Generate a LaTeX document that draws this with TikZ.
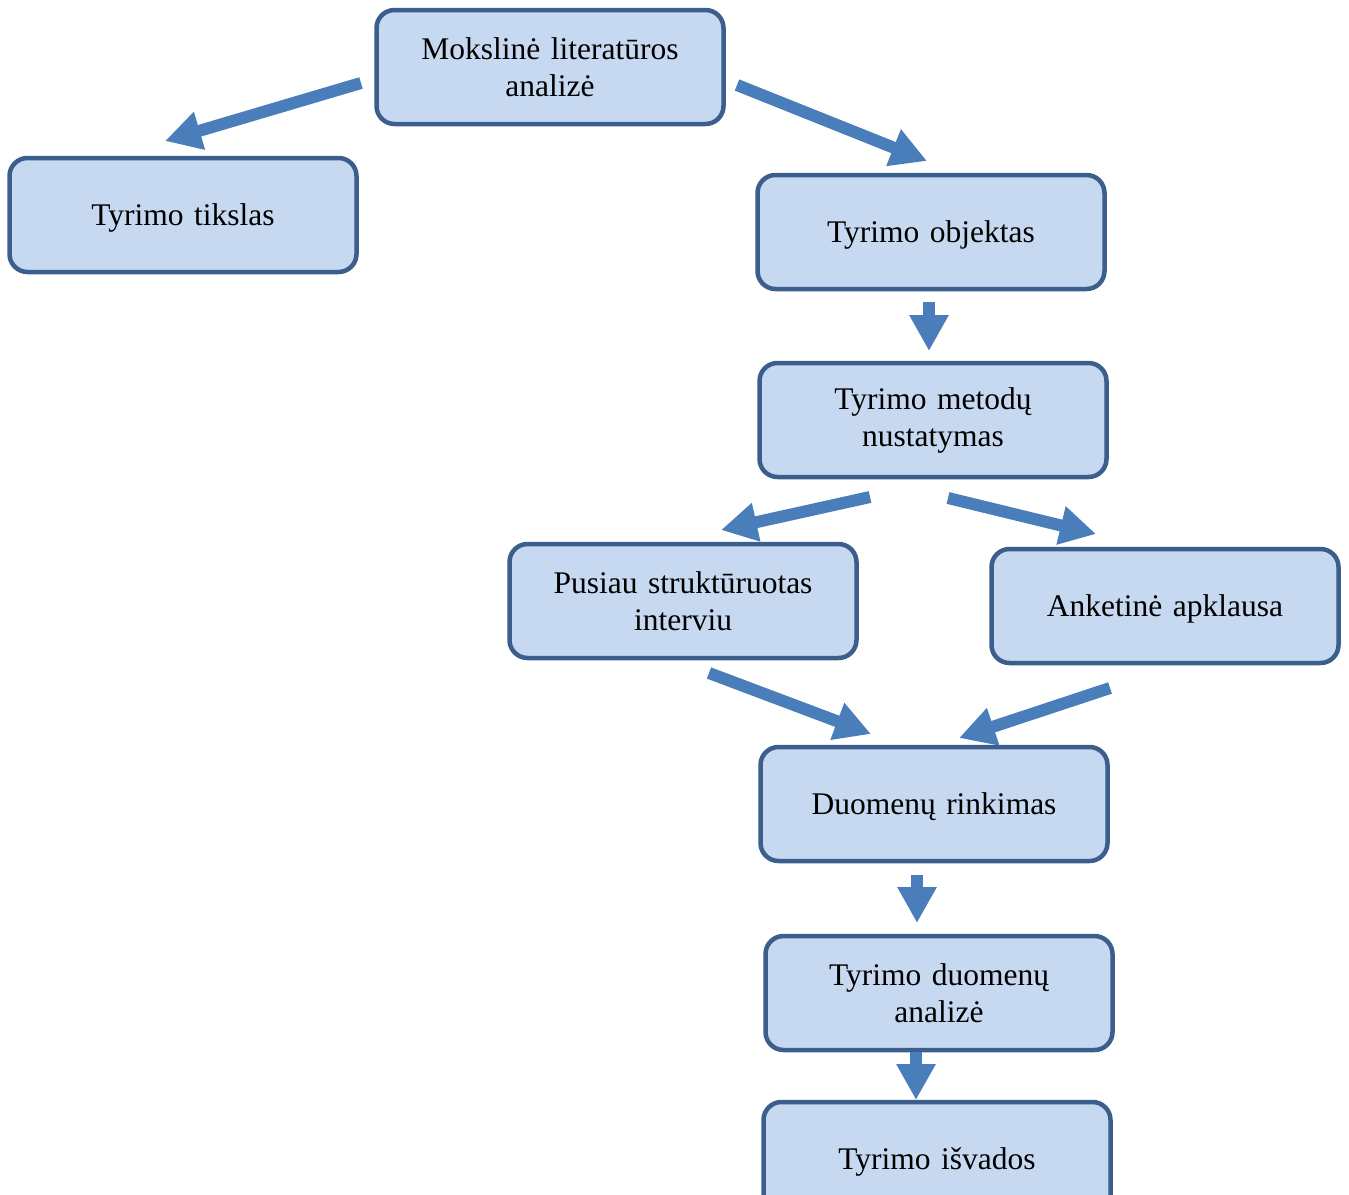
\documentclass[tikz,border=0pt]{standalone}
\usepackage{fontspec}
\setmainfont{Liberation Serif}
\usetikzlibrary{arrows.meta}
\definecolor{boxfill}{HTML}{C6D9F1}
\definecolor{boxline}{HTML}{3B5E8C}
\definecolor{arrowblue}{HTML}{4A7EBB}
\begin{document}
\begin{tikzpicture}[x=1pt,y=-1pt,
  stagebox/.style={draw=boxline,fill=boxfill,line width=4.5pt,rounded corners=18pt,
    minimum width=347pt,minimum height=114pt,text width=330pt,align=center,inner sep=0pt,
    font=\fontsize{31.5}{37}\selectfont},
  oneline/.style={text height=28pt,text depth=7pt},
  blockarrow/.style={draw=arrowblue,line width=12pt,-{Triangle[width=37pt,length=36pt]}}]
\useasboundingbox (0,0) rectangle (1349,1194);
\node[stagebox] (lit) at (550,67) {Mokslinė literatūros\\analizė};
\node[stagebox,oneline] (tikslas) at (183,215) {Tyrimo tikslas};
\node[stagebox,oneline] (objektas) at (931,232) {Tyrimo objektas};
\node[stagebox] (metodai) at (933,420) {Tyrimo metodų\\nustatymas};
\node[stagebox] (interviu) at (683,601) {Pusiau struktūruotas\\interviu};
\node[stagebox,oneline] (anketa) at (1165,606) {Anketinė apklausa};
\node[stagebox,oneline] (rinkimas) at (934,804) {Duomenų rinkimas};
\node[stagebox] (analize) at (939,993) {Tyrimo duomenų\\analizė};
\node[stagebox,oneline] (isvados) at (937,1159) {Tyrimo išvados};
% arrow end points (arrows float between the boxes)
\coordinate (a1s) at (361,83);  \coordinate (a1e) at (165,141);
\coordinate (a2s) at (737,85);  \coordinate (a2e) at (927,161);
\coordinate (a3s) at (929,302); \coordinate (a3e) at (929,351);
\coordinate (a4s) at (870,497); \coordinate (a4e) at (721,530);
\coordinate (a5s) at (948,498); \coordinate (a5e) at (1096,534);
\coordinate (a6s) at (709,673); \coordinate (a6e) at (871,734);
\coordinate (a7s) at (1110,688);\coordinate (a7e) at (959,738);
\coordinate (a8s) at (917,875); \coordinate (a8e) at (917,923);
\coordinate (a9s) at (916,1052);\coordinate (a9e) at (916,1100);
\draw[blockarrow] (a1s) -- (a1e);
\draw[blockarrow] (a2s) -- (a2e);
\draw[blockarrow] (a3s) -- (a3e);
\draw[blockarrow] (a4s) -- (a4e);
\draw[blockarrow] (a5s) -- (a5e);
\draw[blockarrow] (a6s) -- (a6e);
\draw[blockarrow] (a7s) -- (a7e);
\draw[blockarrow] (a8s) -- (a8e);
\draw[blockarrow] (a9s) -- (a9e);
\end{tikzpicture}
\end{document}
